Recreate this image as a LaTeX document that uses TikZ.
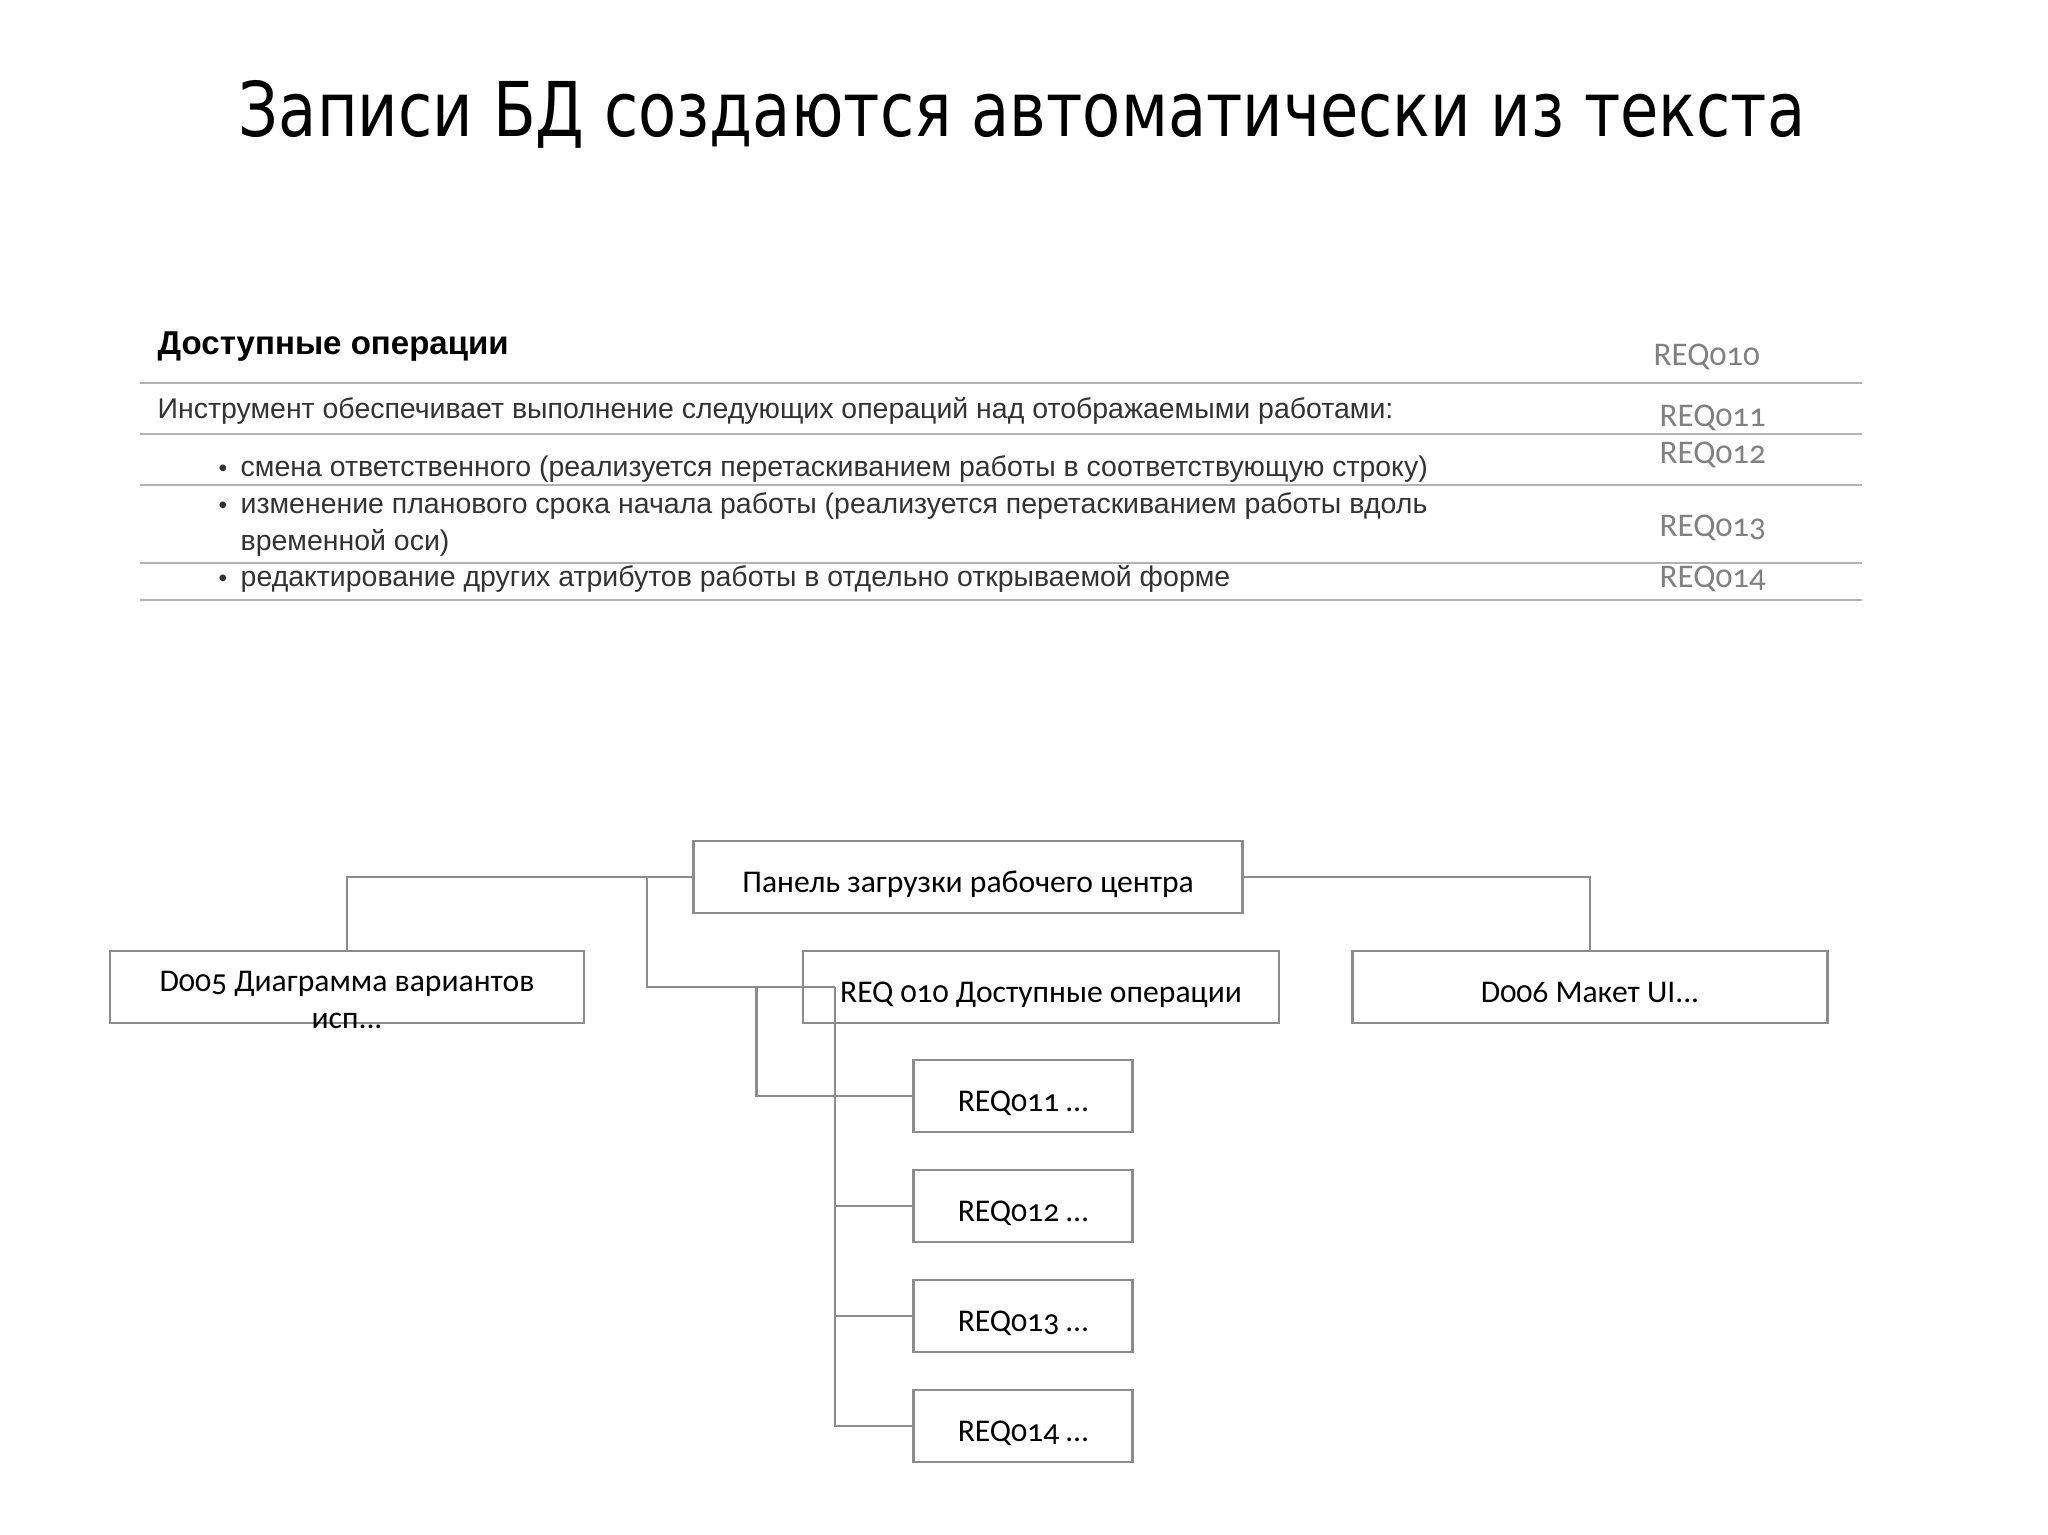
\documentclass[tikz,border=0pt]{standalone}
\usepackage{fontspec}
\setmainfont{Liberation Sans}
\newfontfamily\titlefont[FakeStretch=0.825]{DejaVu Sans}
\newfontfamily\boxfont[Numbers=OldStyle]{Carlito}
\usetikzlibrary{positioning, calc}

\begin{document}
\begin{tikzpicture}[
    x=0.1mm, y=-0.1mm,
    % Define styles for consistency
    title_text/.style={font=\titlefont\fontsize{21.5}{26}\selectfont, anchor=base, inner sep=0pt},
    head_text/.style={font=\bfseries\fontsize{9.4}{11}\selectfont, anchor=base west, inner sep=0pt},
    body_text/.style={font=\fontsize{8.1}{10}\selectfont, text=black!80, anchor=base west, inner sep=0pt},
    req_label/.style={font=\boxfont\fontsize{9.4}{11}\selectfont, text=black!50, anchor=base west, inner sep=0pt},
    rule_line/.style={draw=black!30, line width=0.55pt},
    box_node/.style={draw=black!45, fill=white, line width=0.6pt, minimum height=7.2mm, inner sep=0pt,
        text height=8.8pt, text depth=0pt, font=\boxfont\fontsize{9}{10.5}\selectfont},
    box_text/.style={font=\boxfont\fontsize{9}{10.4}\selectfont, align=center, inner sep=0pt},
    conn_line/.style={draw=black!45, line width=0.6pt}
]
    \fill[white] (0,0) rectangle (2048,1535);
    \useasboundingbox (0,0) rectangle (2048,1535);

    % ---------------------------------------------------------
    % 1. Title
    % ---------------------------------------------------------
    \node[title_text] (title) at (1022,137) {Записи БД создаются автоматически из текста};

    % ---------------------------------------------------------
    % 2. The text table with REQ marks
    % ---------------------------------------------------------
    \foreach \y in {383,434,485,563,600} {
        \draw[rule_line] (140,\y) -- (1862,\y);
    }

    \node[head_text] (hdr) at (157,355) {Доступные операции};
    \node[body_text] (intro) at (157,418.6) {Инструмент обеспечивает выполнение следующих операций над отображаемыми работами:};

    % Bullet items
    \node[body_text, font=\fontsize{7}{9}\selectfont] (dot1) at (218,477) {\textbullet};
    \node[body_text] (item1) at (240,477) {смена ответственного (реализуется перетаскиванием работы в соответствующую строку)};
    \node[body_text, font=\fontsize{7}{9}\selectfont] (dot2) at (218,514) {\textbullet};
    \node[body_text] (item2) at (240,514) {изменение планового срока начала работы (реализуется перетаскиванием работы вдоль};
    \node[body_text] (item2b) at (240,550.5) {временной оси)};
    \node[body_text, font=\fontsize{7}{9}\selectfont] (dot3) at (218,587) {\textbullet};
    \node[body_text] (item3) at (240,587) {редактирование других атрибутов работы в отдельно открываемой форме};

    % REQ marks on the right
    \node[req_label] (mark10) at (1653,366) {REQ010};
    \foreach \n/\y in {11/427, 12/464, 13/537, 14/588} {
        \node[req_label] (mark\n) at (1659,\y) {REQ0\n};
    }

    % ---------------------------------------------------------
    % 3. The tree of records
    % ---------------------------------------------------------
    \node[box_node, minimum width=54.9mm] (panel) at (968,877) {Панель загрузки рабочего центра};
    \node[box_node, minimum width=47.4mm] (d005) at (347,987) {};
    \node[box_text] (d005txt) at (347,1000) {D005 Диаграмма вариантов\\исп...};
    \node[box_node, minimum width=47.6mm] (req010) at (1041,987) {REQ 010 Доступные операции};
    \node[box_node, minimum width=47.5mm] (d006) at (1590,987) {D006 Макет UI...};
    \foreach \n/\y in {11/1096, 12/1206, 13/1316, 14/1426} {
        \node[box_node, minimum width=21.9mm] (req0\n) at (1023,\y) {REQ0\n{} \ldots};
    }

    % Joints of the connectors
    \coordinate (j1) at ([xshift=-4.55mm]panel.west);
    \coordinate (k1) at ([xshift=3.3mm]req010.west);
    \coordinate (k2) at ([xshift=-4.55mm]req010.west);

    % Connectors
    \draw[conn_line] (panel.west) -| (d005.north);
    \draw[conn_line] (panel.east) -| (d006.north);
    \draw[conn_line] (j1) |- (k1);
    \draw[conn_line] (k2) |- (req011.west);
    \draw[conn_line] (k1) |- (req014.west);
    \foreach \n in {12,13} {
        \draw[conn_line] (k1 |- req0\n.west) -- (req0\n.west);
    }
\end{tikzpicture}
\end{document}
